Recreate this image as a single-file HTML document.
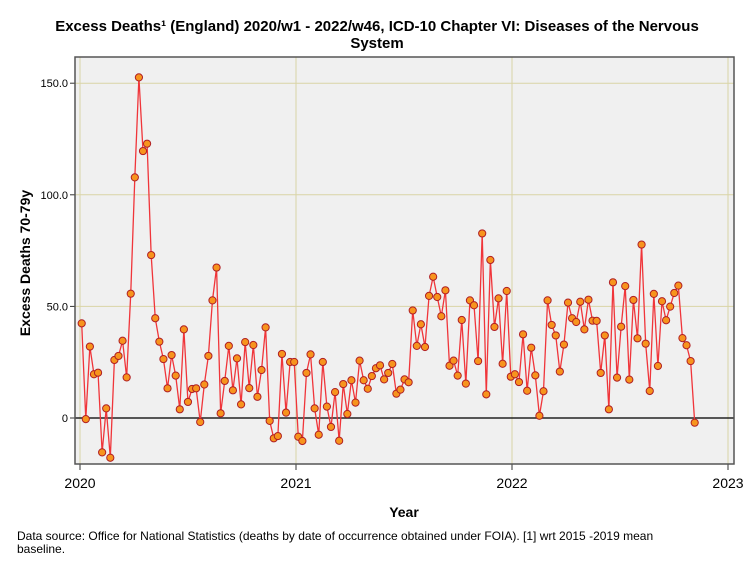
<!DOCTYPE html>
<html><head><meta charset="utf-8"><style>
body{margin:0;background:#fff;font-family:"Liberation Sans",sans-serif}
svg text{font-family:"Liberation Sans",sans-serif}
</style></head><body>
<svg width="754" height="564" xmlns="http://www.w3.org/2000/svg">
<text x="377" y="31" text-anchor="middle" font-size="15" font-weight="bold">Excess Deaths¹ (England) 2020/w1 - 2022/w46, ICD-10 Chapter VI: Diseases of the Nervous</text>
<text x="377" y="48" text-anchor="middle" font-size="15" font-weight="bold">System</text>
<rect x="75" y="57" width="659" height="407" fill="#f0f0f0"/>
<g id="grid"></g>
<g id="axes"></g>
<g id="series"></g>
<rect x="75" y="57" width="659" height="407" fill="none" stroke="#555" stroke-width="1.5"/>
<text transform="translate(30,263) rotate(-90)" text-anchor="middle" font-size="14" font-weight="bold">Excess Deaths 70-79y</text>
<text x="404" y="517" text-anchor="middle" font-size="14" font-weight="bold">Year</text>
<text x="17" y="540" font-size="12">Data source: Office for National Statistics (deaths by date of occurrence obtained under FOIA). [1] wrt 2015 -2019 mean</text>
<text x="17" y="553" font-size="12">baseline.</text>
</svg>
<script>
const yTicks=[0,50,100,150];
const yTickLabels=["0","50.0","100.0","150.0"];
const xTicks=[2020,2021,2022,2023];
const xTickLabels=["2020","2021","2022","2023"];
const excessDeaths=[42.4,-0.5,32,19.6,20.3,-15.4,4.3,-17.8,26,27.8,34.6,18.2,55.7,107.8,152.6,119.6,122.9,73,44.7,34.2,26.4,13.3,28.2,19,3.9,39.7,7.2,13,13.3,-1.8,15,27.8,52.7,67.4,2.1,16.6,32.3,12.4,26.7,6.1,34,13.4,32.7,9.5,21.5,40.6,-1.3,-9.1,-8.1,28.7,2.4,25.1,25.1,-8.4,-10.3,
20.2,28.5,4.3,-7.5,25.1,5.1,-4,11.6,-10.2,15.2,1.8,16.9,6.9,25.7,16.9,13.1,18.8,22.3,23.6,17.3,20.2,24.2,10.9,12.7,17.3,16,48.2,32.3,42,31.8,54.7,63.3,54.2,45.6,57.2,23.4,25.7,19,43.9,15.4,52.7,50.5,25.5,82.7,10.6,70.8,40.8,53.6,24.3,56.9,
18.5,19.6,16.1,37.5,12.2,31.5,19.1,1,12,52.7,41.7,37,20.8,32.9,51.7,44.7,43,52.1,39.7,53,43.6,43.5,20.2,37,3.9,60.8,18.1,40.9,59.1,17.2,52.9,35.7,77.7,33.3,12.1,55.6,23.3,52.3,43.8,49.9,56,59.3,35.8,32.6,25.5,-2.1];
const NS="http://www.w3.org/2000/svg";
const yS=v=>418-v*2.232;
const xYear=y=>80+(y-2020)*216;
const xIdx=i=>81.7+i*(694.7-81.7)/(excessDeaths.length-1);
function mk(t,a,p){const e=document.createElementNS(NS,t);for(const k in a)e.setAttribute(k,a[k]);p.appendChild(e);return e;}
const grid=document.getElementById('grid'),axes=document.getElementById('axes'),ser=document.getElementById('series');
yTicks.forEach((v,i)=>{
 if(v!==0){const l=mk('line',{x1:75,x2:734,y1:yS(v),y2:yS(v),stroke:'#d9d4a6','stroke-width':1},grid);
 
 }
 const t=mk('line',{x1:70,x2:75,y1:yS(v),y2:yS(v),stroke:'#333'},axes);
 
 
 const tx=mk('text',{x:68,y:yS(v)+4,'text-anchor':'end','font-size':11},axes);
 tx.textContent=yTickLabels[i];
 
 
});
xTicks.forEach((v,i)=>{
 const l=mk('line',{x1:xYear(v),x2:xYear(v),y1:57,y2:464,stroke:'#d9d4a6','stroke-width':1},grid);
 
 
 const t=mk('line',{x1:xYear(v),x2:xYear(v),y1:464,y2:470,stroke:'#333'},axes);
 
 
 const tx=mk('text',{x:xYear(v),y:488,'text-anchor':'middle','font-size':14},axes);
 tx.textContent=xTickLabels[i];
 
 
});
const zl=mk('line',{x1:75,x2:734,y1:yS(0),y2:yS(0),stroke:'#222','stroke-width':1.5},grid);


const pl=mk('polyline',{points:excessDeaths.map((v,i)=>xIdx(i)+','+yS(v)).join(' '),fill:'none',stroke:'#f0353a','stroke-width':1.3},ser);


excessDeaths.forEach((v,i)=>{
 const c=mk('circle',{cx:xIdx(i),cy:yS(v),r:3.6,fill:'#f7941d',stroke:'#b01e23','stroke-width':1},ser);
 
 
});
</script>
</body></html>
